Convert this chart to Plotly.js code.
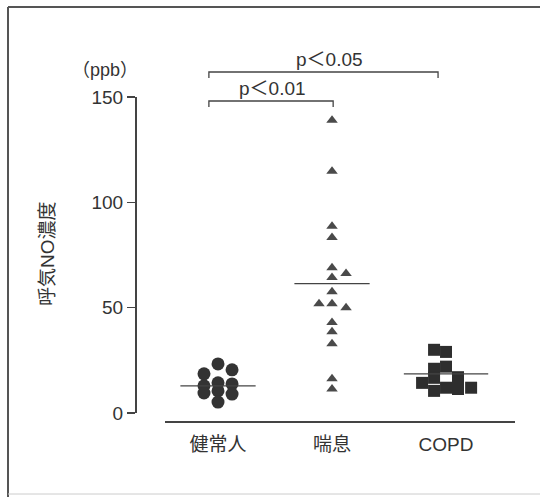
<!DOCTYPE html>
<html>
<head>
<meta charset="utf-8">
<script src="https://cdn.plot.ly/plotly-3.0.1.min.js"></script>
<style>html,body{margin:0;padding:0;background:#fff;}#chart{width:540px;height:497px;}</style>
</head>
<body>
<div id="chart"></div>
<script>
// Categories and tick labels
const categories = ['健常人', '喘息', 'COPD'];
const yTickVals = [0, 50, 100, 150];

// Series values (ppb) with column offsets (jitter)
const healthyValues  = [23.3, 18.6, 20.5, 12.9, 14.3, 13.8, 9.5, 10.5, 9.0, 5.2];
const healthyOffsets = [0, -0.123, 0.123, -0.123, 0, 0.123, -0.123, 0, 0.123, 0];

const asthmaValues  = [139, 114.8, 88.6, 83.3, 69, 66.2, 64.3, 57.6, 51.9, 51.9, 50, 42.9, 38.6, 32.9, 16.2, 11.4];
const asthmaOffsets = [0, 0, 0, 0, 0, 0.123, 0, 0, -0.114, 0, 0.123, 0, 0, 0, 0, 0];

const copdValues  = [30, 21, 16.7, 10.5, 29, 22, 12, 14.3, 17, 11.4, 12];
const copdOffsets = [-0.105, -0.105, -0.105, -0.105, 0, 0, 0, -0.21, 0.105, 0.105, 0.22];

// Group means (horizontal bars)
const groupMeans = [12.9, 61.4, 18.6];
const meanHalfWidths = [0.33, 0.33, 0.37];

// Significance labels
const sigLabels = ['p＜0.01', 'p＜0.05'];

const fontFam = 'Liberation Sans, Arial, Noto Sans CJK JP, sans-serif';
const txt = '#333';
const ax = '#444';

function xs(idx, offs) { return offs.map(o => idx + o); }

const traces = [
  {x: xs(1, healthyOffsets), y: healthyValues, mode: 'markers', type: 'scatter',
   marker: {symbol: 'circle', size: 13, color: '#333'}, cliponaxis: false},
  {x: xs(2, asthmaOffsets), y: asthmaValues, mode: 'markers', type: 'scatter',
   marker: {symbol: 'triangle-up', size: 10, color: '#4a4a4a'}, cliponaxis: false},
  {x: xs(3, copdOffsets), y: copdValues, mode: 'markers', type: 'scatter',
   marker: {symbol: 'square', size: 12, color: '#2e2e2e'}, cliponaxis: false}
];
groupMeans.forEach((m, i) => {
  traces.push({x: [i + 1 - meanHalfWidths[i], i + 1 + meanHalfWidths[i]], y: [m, m],
    mode: 'lines', type: 'scatter', line: {color: '#444', width: 1.3}, cliponaxis: false});
});

// paper-coordinate helpers (paper: x 60..515 px, y 97..430 px)
const PX0 = 60, PW = 455, PY1 = 430, PH = 333;
const px = v => (v - PX0) / PW;
const py = v => (PY1 - v) / PH;

const shapes = [
  // frame lines
  {type: 'line', xref: 'paper', yref: 'paper', x0: px(8), x1: px(540), y0: py(7), y1: py(7), line: {color: '#555', width: 2}},
  {type: 'line', xref: 'paper', yref: 'paper', x0: px(8), x1: px(8), y0: py(7), y1: py(497), line: {color: '#555', width: 2}},
  {type: 'line', xref: 'paper', yref: 'paper', x0: px(8), x1: px(540), y0: py(494), y1: py(494), line: {color: '#ccc', width: 1}},
  // brackets
  {type: 'path', xref: 'x', yref: 'paper', path: `M 0.92 ${py(107)} L 0.92 ${py(101)} L 2.01 ${py(101)} L 2.01 ${py(107)}`, line: {color: ax, width: 1.3}},
  {type: 'path', xref: 'x', yref: 'paper', path: `M 0.92 ${py(78)} L 0.92 ${py(72)} L 2.93 ${py(72)} L 2.93 ${py(78)}`, line: {color: ax, width: 1.3}}
];

const ann = (text, xref, x, y, size, extra) => Object.assign({
  text: text, xref: xref, yref: 'paper', x: x, y: y, showarrow: false,
  xanchor: 'center', yanchor: 'middle',
  font: {family: fontFam, size: size, color: txt}
}, extra || {});

const annotations = [
  ann(sigLabels[0], 'x', 1.48, py(88), 19),
  ann(sigLabels[1], 'x', 1.98, py(60), 19),
  ann('（ppb）', 'paper', px(105), py(70), 18),
  ann('呼気NO濃度', 'paper', px(47), py(254), 19, {textangle: -90})
];

const layout = {
  width: 540, height: 497,
  margin: {l: PX0, r: 540 - 515, t: 97, b: 497 - PY1, pad: 0},
  paper_bgcolor: '#fff', plot_bgcolor: '#fff',
  showlegend: false,
  font: {family: fontFam, color: txt},
  xaxis: {
    domain: [px(165), 1], range: [0.535, 3.605],
    tickvals: [1, 2, 3], ticktext: categories,
    showline: true, linecolor: ax, linewidth: 1.5,
    ticks: '', showgrid: false, zeroline: false,
    anchor: 'free', position: py(421),
    ticklabelstandoff: 6,
    tickfont: {family: fontFam, size: 19, color: txt}
  },
  yaxis: {
    domain: [py(413), 1], range: [0, 150],
    tickvals: yTickVals,
    showline: true, linecolor: ax, linewidth: 1.5,
    ticks: 'outside', ticklen: 8, tickwidth: 1.5, tickcolor: ax,
    showgrid: false, zeroline: false,
    anchor: 'free', position: px(135),
    tickfont: {family: fontFam, size: 19, color: txt}
  },
  shapes: shapes,
  annotations: annotations
};

Plotly.newPlot('chart', traces, layout, {displayModeBar: false, staticPlot: true});
</script>
</body>
</html>
